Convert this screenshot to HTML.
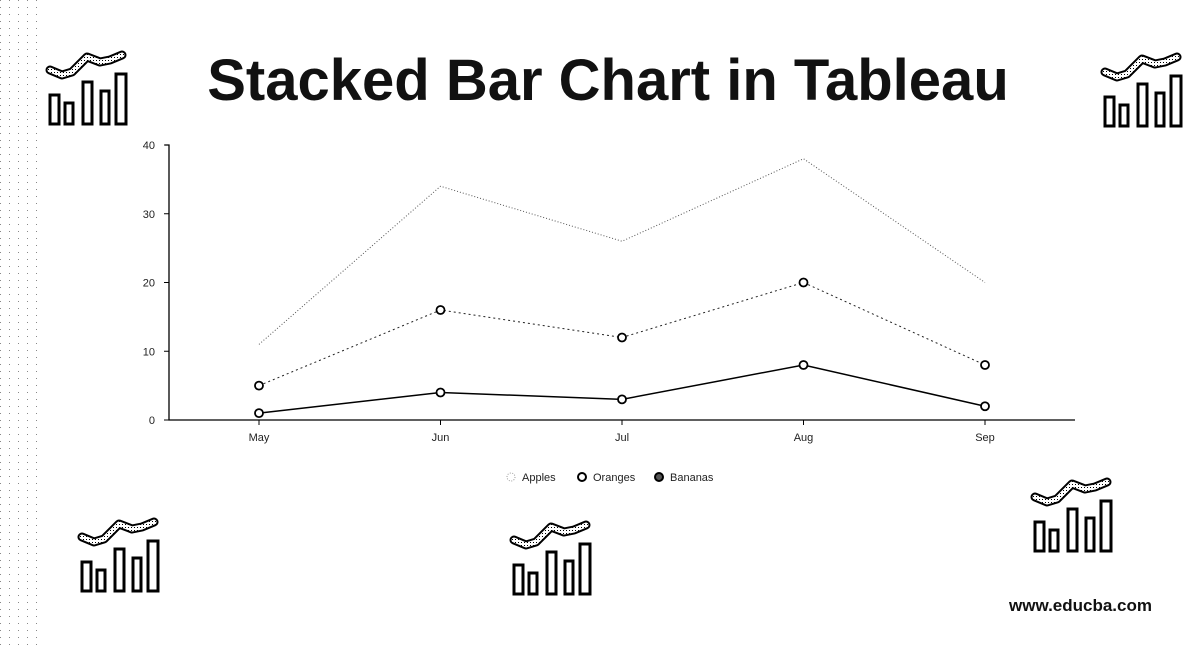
<!DOCTYPE html>
<html><head><meta charset="utf-8"><style>
body{margin:0;background:#fff;}
svg{display:block;font-family:"Liberation Sans",sans-serif;}
</style></head><body>
<svg id="c" width="1200" height="650" viewBox="0 0 1200 650">
<defs>
<pattern id="dots" width="3" height="3" patternUnits="userSpaceOnUse"><rect width="3" height="3" fill="#fff"/><rect width="1" height="1" fill="#000"/></pattern>
<pattern id="sp" width="9" height="7" patternUnits="userSpaceOnUse"><rect width="1" height="1" fill="#888"/></pattern>
<g id="icon">
<path d="M2,22 L14,27 L24,24 L39,9 L52,14 L62,12 L74,7" fill="none" stroke="#000" stroke-width="9" stroke-linecap="round" stroke-linejoin="round"/>
<path d="M2,22 L14,27 L24,24 L39,9 L52,14 L62,12 L74,7" fill="none" stroke="url(#dots)" stroke-width="5" stroke-linecap="round" stroke-linejoin="round"/>
<g fill="none" stroke="#000" stroke-width="3">
<rect x="2" y="47" width="9" height="29"/><rect x="17" y="55" width="8" height="21"/><rect x="35" y="34" width="9" height="42"/><rect x="53" y="43" width="8" height="33"/><rect x="68" y="26" width="10" height="50"/>
</g></g>
</defs>
<rect x="0" y="0" width="45" height="650" fill="url(#sp)"/>
<text x="608" y="100" text-anchor="middle" font-size="58" font-weight="bold" fill="#111">Stacked Bar Chart in Tableau</text>
<use href="#icon" x="48" y="48"/>
<use href="#icon" x="1103" y="50"/>
<use href="#icon" x="80" y="515"/>
<use href="#icon" x="512" y="518"/>
<use href="#icon" x="1033" y="475"/>
<text x="1152" y="611" text-anchor="end" font-size="17" font-weight="bold" fill="#111">www.educba.com</text>
<g id="plot"></g>
<g font-size="11" fill="#222">
<g><circle cx="511" cy="477" r="4" fill="none" stroke="#999" stroke-dasharray="1 1.5"/><text x="522" y="481">Apples</text></g>
<g><circle cx="582" cy="477" r="4" fill="none" stroke="#000" stroke-width="2"/><text x="593" y="481">Oranges</text></g>
<g><circle cx="659" cy="477" r="4" fill="#555" stroke="#000" stroke-width="2"/><text x="670" y="481">Bananas</text></g>
</g>
</svg>
<script>
const months=["May","Jun","Jul","Aug","Sep"];
const oranges=[1,4,3,8,2];
const bananas=[4,12,9,12,6];
const apples=[6,18,14,18,12];
const yTicks=[0,10,20,30,40];
const NS="http://www.w3.org/2000/svg";
const plot=document.getElementById('plot');
const x=i=>259+i*181.5;
const y=v=>420-v*6.875;
function mk(t,a){const e=document.createElementNS(NS,t);for(const k in a)e.setAttribute(k,a[k]);plot.appendChild(e);return e;}
let ax=mk('path',{d:'M165,145 L169,145 L169,420 L1075,420',fill:'none',stroke:'#000','stroke-width':1.3});


yTicks.forEach(t=>{
 mk('line',{x1:164,x2:169,y1:y(t),y2:y(t),stroke:'#000'});
 const tx=mk('text',{x:155,y:y(t)+4,'text-anchor':'end','font-size':11,fill:'#222'});tx.textContent=t;
 
 
});
months.forEach((m,i)=>{
 mk('line',{x1:x(i),x2:x(i),y1:420,y2:425,stroke:'#000'});
 const tx=mk('text',{x:x(i),y:441,'text-anchor':'middle','font-size':11,fill:'#222'});tx.textContent=m;
 
 
});
const s1=oranges.slice();
const s2=oranges.map((v,i)=>v+bananas[i]);
const s3=s2.map((v,i)=>v+apples[i]);
function line(vals,style,name){
 const p=mk('polyline',Object.assign({points:vals.map((v,i)=>x(i)+','+y(v)).join(' '),fill:'none'},style));
 
 
}
line(s3,{stroke:'#555','stroke-dasharray':'1 2','stroke-width':1},'apples-line');
line(s2,{stroke:'#222','stroke-dasharray':'2 3','stroke-width':1},'bananas-line');
line(s1,{stroke:'#000','stroke-width':1.5},'oranges-line');
[s1,s2].forEach((arr,k)=>arr.forEach((v,i)=>{
 const c=mk('circle',{cx:x(i),cy:y(v),r:4,fill:'#fff',stroke:'#000','stroke-width':1.8});
 
 
}));
</script>
</body></html>
